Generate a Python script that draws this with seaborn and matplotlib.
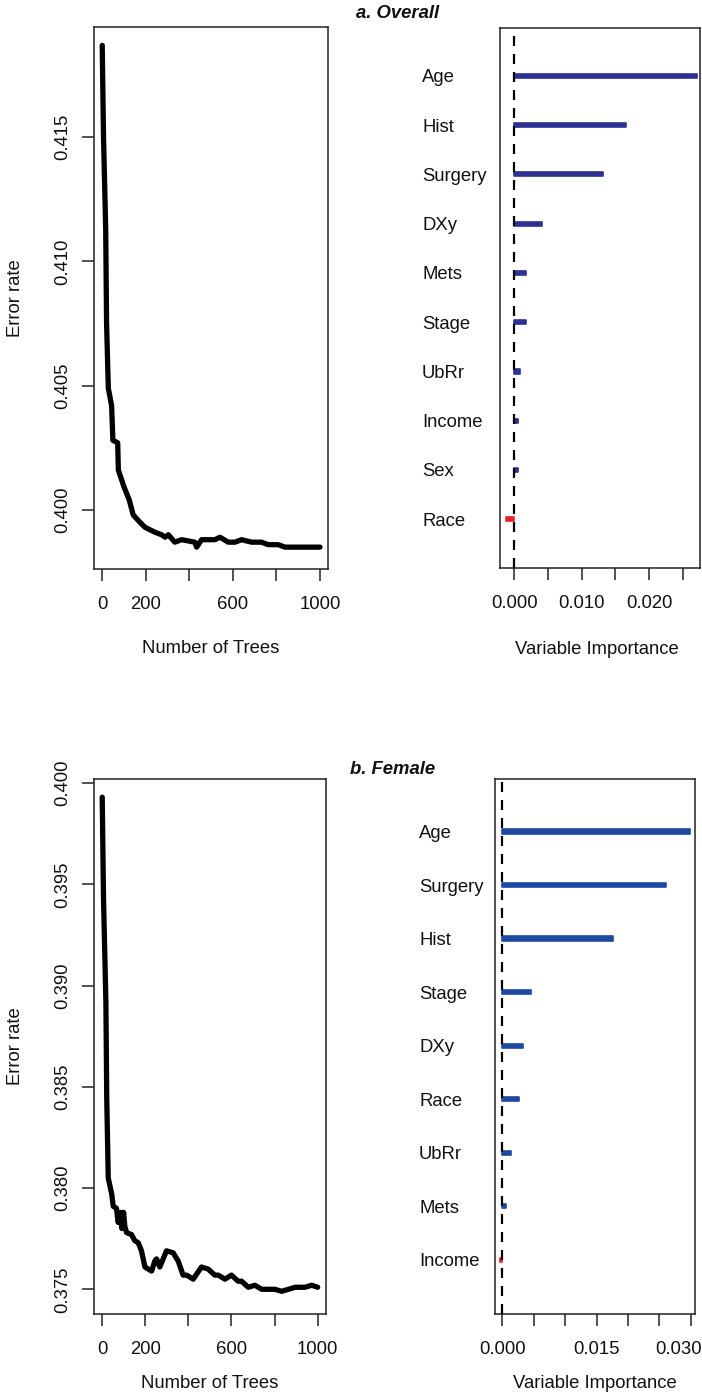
import matplotlib
matplotlib.use("Agg")
import matplotlib.pyplot as plt
import matplotlib.transforms as mtransforms
import numpy as np
import pandas as pd
import seaborn as sns

# ---------------- data ----------------
overall_trees = [1, 7, 17, 21, 29, 44, 50, 72, 75, 102, 125, 143, 174, 197, 243, 273,
                 289, 304, 334, 365, 426, 434, 457, 518, 541, 579, 610, 640, 686, 732,
                 762, 808, 839, 869, 900, 930, 946, 976, 1000]
overall_error = [0.4187, 0.4150, 0.4113, 0.4075, 0.4049, 0.4042, 0.4028, 0.4027, 0.4016,
                 0.4009, 0.4004, 0.3998, 0.3995, 0.3993, 0.3991, 0.3990, 0.3989, 0.3990,
                 0.3987, 0.3988, 0.3987, 0.3985, 0.3988, 0.3988, 0.3989, 0.3987, 0.3987,
                 0.3988, 0.3987, 0.3987, 0.3986, 0.3986, 0.3985, 0.3985, 0.3985, 0.3985,
                 0.3985, 0.3985, 0.3985]

female_trees = [1, 7, 18, 22, 29, 45, 52, 67, 75, 85, 92, 100, 106, 114, 137, 152, 168,
                183, 199, 214, 230, 245, 253, 268, 299, 330, 353, 376, 392, 423, 461, 492,
                523, 539, 570, 600, 631, 647, 678, 709, 740, 802, 833, 864, 895, 941, 972,
                1000]
female_error = [0.3993, 0.3943, 0.3892, 0.3844, 0.3805, 0.3797, 0.3791, 0.3790, 0.3783,
                0.3788, 0.3780, 0.3788, 0.3781, 0.3778, 0.3777, 0.3774, 0.3773, 0.3769,
                0.3761, 0.3760, 0.3759, 0.3764, 0.3765, 0.3761, 0.3769, 0.3768, 0.3764,
                0.3757, 0.3757, 0.3755, 0.3761, 0.3760, 0.3757, 0.3757, 0.3755, 0.3757,
                0.3754, 0.3754, 0.3751, 0.3752, 0.3750, 0.3750, 0.3749, 0.3750, 0.3751,
                0.3751, 0.3752, 0.3751]

overall_vars = ["Age", "Hist", "Surgery", "DXy", "Mets", "Stage", "UbRr", "Income", "Sex", "Race"]
overall_vimp = [0.0271, 0.0166, 0.0131, 0.0041, 0.0018, 0.0018, 0.0008, 0.0006, 0.0006, -0.0012]

female_vars = ["Age", "Surgery", "Hist", "Stage", "DXy", "Race", "UbRr", "Mets", "Income"]
female_vimp = [0.0299, 0.0261, 0.0176, 0.0046, 0.0033, 0.0027, 0.0014, 0.0006, -0.0003]

tree_ticks = [0, 200, 400, 600, 800, 1000]
tree_ticklabels = ["0", "200", "", "600", "", "1000"]
overall_err_ticks = [0.400, 0.405, 0.410, 0.415]
female_err_ticks = [0.375, 0.380, 0.385, 0.390, 0.395, 0.400]
overall_vimp_ticks = [0.000, 0.005, 0.010, 0.015, 0.020, 0.025]
overall_vimp_ticklabels = ["0.000", "", "0.010", "", "0.020", ""]
female_vimp_ticks = [0.000, 0.005, 0.010, 0.015, 0.020, 0.025, 0.030]
female_vimp_ticklabels = ["0.000", "", "", "0.015", "", "", "0.030"]

# ---------------- style ----------------
sns.set_style("white")
FS = 13.3
TXT = "#111111"
plt.rcParams["font.family"] = ["Liberation Sans", "DejaVu Sans"]
plt.rcParams["font.size"] = FS
plt.rcParams["axes.edgecolor"] = "#222222"
plt.rcParams["axes.linewidth"] = 1.1
plt.rcParams["xtick.color"] = "#222222"
plt.rcParams["ytick.color"] = "#222222"
plt.rcParams["xtick.labelcolor"] = TXT
plt.rcParams["ytick.labelcolor"] = TXT

W, H = 702, 1395
fig = plt.figure(figsize=(W / 100, H / 100), dpi=100)
fig.patch.set_facecolor("white")


def ax_at(x0, y0, x1, y1):
    return fig.add_axes([x0 / W, 1 - y1 / H, (x1 - x0) / W, (y1 - y0) / H])


BLUE_TOP = "#2E3192"
BLUE_BOT = "#1F48A0"
RED = "#E8202A"


def style_ticks(ax):
    ax.tick_params(axis="both", which="both", direction="out", length=8.6, width=1.1,
                   labelsize=FS, bottom=True, left=True)
    ax.tick_params(axis="x", pad=11.0)
    ax.tick_params(axis="y", pad=8.0)


def error_panel(box, trees, err, yticks, ylim, xlim):
    ax = ax_at(*box)
    sns.lineplot(x=trees, y=err, ax=ax, color="black", linewidth=3.8,
                 solid_capstyle="round", solid_joinstyle="round", sort=False)
    ax.set_xlim(*xlim)
    ax.set_ylim(*ylim)
    ax.set_xticks(tree_ticks)
    ax.set_xticklabels(tree_ticklabels)
    ax.set_yticks(yticks)
    ax.set_yticklabels([f"{v:.3f}" for v in yticks], rotation=90, va="center")
    ax.set_xlabel("")
    ax.set_ylabel("")
    style_ticks(ax)
    for s in ax.spines.values():
        s.set_visible(True)
    return ax


def vimp_panel(box, names, vals, blue, xticks, xticklabels, xlim, ylim, bar_w, label_x):
    ax = ax_at(*box)
    df = pd.DataFrame({"var": names, "vimp": vals,
                       "sign": ["pos" if v >= 0 else "neg" for v in vals]})
    sns.barplot(data=df, x="vimp", y="var", hue="sign", order=names,
                palette={"pos": blue, "neg": RED}, dodge=False, width=bar_w,
                orient="h", errorbar=None, legend=False, ax=ax,
                linewidth=1.2, zorder=2, saturation=1)
    for p in ax.patches:
        p.set_edgecolor(p.get_facecolor())
        p.set_joinstyle("round")
    ax.axvline(0, color="black", linewidth=1.6, linestyle=(0, (4.5, 3.6)), zorder=3)
    ax.set_xlim(*xlim)
    ax.set_ylim(*ylim)
    ax.set_xticks(xticks)
    ax.set_xticklabels(xticklabels)
    ax.set_xlabel("")
    ax.set_ylabel("")
    style_ticks(ax)
    pad_pt = (box[0] - label_x) * 0.72
    ax.tick_params(axis="y", length=0, pad=pad_pt)
    for lab in ax.get_yticklabels():
        lab.set_horizontalalignment("left")
    for s in ax.spines.values():
        s.set_visible(True)
    return ax


# ---------------- panel a ----------------
error_panel((94, 27, 328, 569), overall_trees, overall_error, overall_err_ticks,
            (0.39762, 0.41944), (-36.7, 1036.7))
vimp_panel((500, 28, 700, 568), overall_vars, overall_vimp, BLUE_TOP,
           overall_vimp_ticks, overall_vimp_ticklabels, (-0.00212, 0.02755),
           (9.99, -0.97), 0.085, 422)

# ---------------- panel b ----------------
error_panel((94, 779, 326, 1314), female_trees, female_error, female_err_ticks,
            (0.37378, 0.4002), (-37.1, 1038.5))
axb = vimp_panel((495, 779, 695, 1314), female_vars, female_vimp, BLUE_BOT,
                 female_vimp_ticks, female_vimp_ticklabels, (-0.00116, 0.03068),
                 (9.01, -0.98), 0.08, 419)
# keep the last tick label ("0.030") inside the figure edge
last = axb.get_xticklabels()[-1]
last.set_horizontalalignment("right")
last.set_transform(last.get_transform() +
                   mtransforms.ScaledTranslation(11 / 100, 0, fig.dpi_scale_trans))

# ---------------- texts ----------------
def ftext(x, y, s, **kw):
    fig.text(x / W, 1 - y / H, s, color=TXT, fontsize=FS, **kw)


ftext(398, 13, "a. Overall", ha="center", va="center", fontweight="bold", style="italic")
ftext(393, 770, "b. Female", ha="center", va="center", fontweight="bold", style="italic")
ftext(15, 298, "Error rate", ha="center", va="center", rotation=90)
ftext(15, 1046, "Error rate", ha="center", va="center", rotation=90)
ftext(211, 648, "Number of Trees", ha="center", va="center")
ftext(210, 1384, "Number of Trees", ha="center", va="center")
ftext(597, 650, "Variable Importance", ha="center", va="center")
ftext(595, 1384, "Variable Importance", ha="center", va="center")

fig.savefig("out.png", dpi=100, facecolor="white")
